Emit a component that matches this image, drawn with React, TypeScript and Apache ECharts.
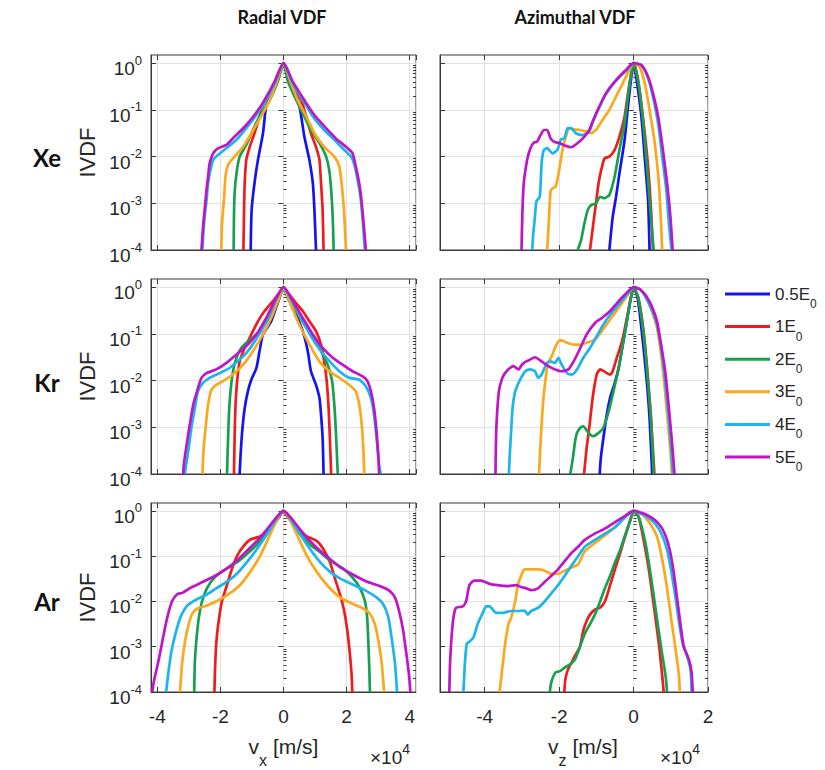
import React, { useEffect, useRef } from "react";
import * as echarts from "echarts";

// ---- Legend / series identity ----
const energyPrefixes = ["0.5", "1", "2", "3", "4", "5"];
const energyNames = ["0.5E0", "1E0", "2E0", "3E0", "4E0", "5E0"];
const lineColors = ["#1414ee", "#f01c1c", "#17a04f", "#fba81c", "#1cb4ec", "#c014c8"];

const columnTitles = ["Radial VDF", "Azimuthal VDF"];
const rowLabels = ["Xe", "Kr", "Ar"];
const xAxisNames = ["x", "z"];
const majorTickValues = [0.0001, 0.001, 0.01, 0.1, 1];

// ---- Data: each point is [velocity (×10^4 m/s), log10(IVDF)] ----
// Xe, radial
const xeRadial05 = [[-1.04,-4],[-1.01,-3.14],[-0.92,-2.57],[-0.81,-2.07],[-0.65,-1.5],[-0.55,-0.93],[-0.28,-0.43],[0,0],[0.29,-0.43],[0.51,-0.93],[0.66,-1.57],[0.82,-2.07],[0.93,-2.57],[0.98,-3.14],[1.03,-4]];
const xeRadial1 = [[-1.27,-4],[-1.25,-3.14],[-1.23,-2.57],[-1.18,-2.07],[-1.07,-1.79],[-0.92,-1.5],[-0.76,-1.14],[-0.6,-0.79],[-0.39,-0.57],[-0.18,-0.36],[0,0],[0.19,-0.36],[0.4,-0.57],[0.56,-0.79],[0.72,-1.14],[0.87,-1.5],[1.03,-1.79],[1.14,-2.07],[1.19,-2.57],[1.24,-3.14],[1.27,-4]];
const xeRadial2 = [[-1.58,-4],[-1.57,-3.29],[-1.55,-2.79],[-1.49,-2.36],[-1.39,-2.0],[-1.18,-1.75],[-0.97,-1.43],[-0.76,-1.14],[-0.44,-0.79],[-0.18,-0.39],[0,0],[0.14,-0.39],[0.35,-0.71],[0.61,-1.07],[0.87,-1.43],[1.14,-1.71],[1.35,-2.0],[1.45,-2.29],[1.51,-2.71],[1.56,-3.29],[1.59,-4]];
const xeRadial3 = [[-1.97,-4],[-1.95,-3.43],[-1.88,-2.86],[-1.84,-2.43],[-1.76,-2.18],[-1.55,-2.0],[-1.28,-1.79],[-1.02,-1.5],[-0.71,-1.14],[-0.44,-0.79],[-0.23,-0.43],[0,0],[0.24,-0.43],[0.45,-0.79],[0.72,-1.14],[0.98,-1.5],[1.29,-1.79],[1.61,-2.0],[1.77,-2.21],[1.84,-2.57],[1.91,-3.07],[1.95,-3.57],[1.98,-4]];
const xeRadial4 = [[-2.57,-4],[-2.52,-3.43],[-2.44,-2.93],[-2.39,-2.57],[-2.34,-2.36],[-2.23,-2.07],[-2.07,-1.96],[-1.81,-1.82],[-1.49,-1.64],[-1.18,-1.39],[-0.86,-1.11],[-0.55,-0.79],[-0.28,-0.43],[0,0],[0.29,-0.43],[0.61,-0.79],[0.93,-1.14],[1.29,-1.43],[1.61,-1.64],[1.93,-1.86],[2.14,-2.0],[2.25,-2.18],[2.35,-2.5],[2.44,-2.86],[2.51,-3.36],[2.58,-4]];
const xeRadial5 = [[-2.6,-4],[-2.55,-3.5],[-2.49,-3.07],[-2.44,-2.71],[-2.39,-2.43],[-2.34,-2.14],[-2.23,-1.93],[-2.07,-1.82],[-1.81,-1.75],[-1.55,-1.57],[-1.23,-1.36],[-0.92,-1.11],[-0.6,-0.79],[-0.28,-0.39],[0,0],[0.29,-0.39],[0.66,-0.79],[0.98,-1.11],[1.35,-1.39],[1.66,-1.61],[1.98,-1.79],[2.19,-1.93],[2.29,-2.21],[2.4,-2.57],[2.47,-2.93],[2.54,-3.43],[2.61,-4]];

// Xe, azimuthal
const xeAzim05 = [[-0.65,-4],[-0.56,-3.29],[-0.47,-2.86],[-0.38,-2.36],[-0.24,-1.64],[-0.15,-0.93],[-0.06,-0.29],[0,0],[0.07,-0.29],[0.21,-1.14],[0.32,-2.21],[0.39,-2.93],[0.43,-4]];
const xeAzim1 = [[-1.17,-4],[-1.08,-3.43],[-1.01,-3.0],[-0.94,-2.57],[-0.87,-2.29],[-0.78,-2.04],[-0.65,-2.0],[-0.51,-1.86],[-0.38,-1.57],[-0.24,-1.14],[-0.15,-0.64],[-0.06,-0.21],[0,0],[0.12,-0.36],[0.25,-1.14],[0.39,-2.21],[0.48,-3.29],[0.52,-4]];
const xeAzim2 = [[-1.5,-4],[-1.41,-3.79],[-1.32,-3.43],[-1.23,-3.14],[-1.14,-3.04],[-1.01,-3.0],[-0.9,-2.86],[-0.78,-2.89],[-0.65,-2.82],[-0.51,-2.43],[-0.38,-1.86],[-0.24,-1.29],[-0.15,-0.71],[-0.06,-0.21],[0,0],[0.12,-0.36],[0.25,-1.21],[0.36,-2.21],[0.45,-3.14],[0.54,-4]];
const xeAzim3 = [[-2.32,-4],[-2.27,-3.29],[-2.23,-2.75],[-2.18,-2.68],[-2.09,-2.64],[-2.0,-2.29],[-1.91,-1.86],[-1.82,-1.57],[-1.73,-1.39],[-1.64,-1.41],[-1.46,-1.43],[-1.28,-1.46],[-1.14,-1.5],[-1.01,-1.43],[-0.83,-1.21],[-0.65,-1.0],[-0.47,-0.71],[-0.29,-0.43],[-0.11,-0.14],[0,0],[0.16,-0.07],[0.3,-0.43],[0.43,-1.0],[0.57,-1.71],[0.68,-2.57],[0.73,-3.29],[0.77,-4]];
const xeAzim4 = [[-2.72,-4],[-2.7,-3.71],[-2.65,-3.29],[-2.61,-2.96],[-2.52,-2.86],[-2.47,-2.14],[-2.41,-1.86],[-2.32,-1.82],[-2.18,-1.93],[-2.05,-1.86],[-1.95,-1.63],[-1.86,-1.61],[-1.77,-1.39],[-1.68,-1.39],[-1.55,-1.5],[-1.37,-1.54],[-1.19,-1.46],[-1.1,-1.27],[-0.92,-0.94],[-0.74,-0.66],[-0.47,-0.37],[-0.2,-0.16],[0,0],[0.21,-0.04],[0.39,-0.32],[0.52,-0.71],[0.66,-1.29],[0.77,-2.0],[0.88,-2.71],[0.95,-3.43],[1.02,-4]];
const xeAzim5 = [[-3.01,-4],[-2.99,-3.29],[-2.95,-2.57],[-2.86,-2.07],[-2.77,-1.82],[-2.68,-1.7],[-2.59,-1.68],[-2.5,-1.54],[-2.41,-1.43],[-2.32,-1.43],[-2.23,-1.61],[-2.14,-1.68],[-2.0,-1.71],[-1.82,-1.77],[-1.68,-1.8],[-1.5,-1.71],[-1.32,-1.57],[-1.19,-1.43],[-1.1,-1.25],[-0.92,-0.93],[-0.74,-0.64],[-0.47,-0.36],[-0.2,-0.14],[0,0],[0.21,-0.04],[0.39,-0.29],[0.52,-0.64],[0.66,-1.14],[0.79,-1.86],[0.9,-2.57],[0.99,-3.29],[1.05,-4]];

// Kr, radial
const krRadial05 = [[-1.39,-4],[-1.36,-3.59],[-1.31,-3.09],[-1.23,-2.59],[-1.13,-2.23],[-1.02,-1.98],[-0.86,-1.73],[-0.76,-1.37],[-0.65,-1.01],[-0.39,-0.73],[-0.13,-0.23],[0,0],[0.14,-0.23],[0.4,-0.59],[0.61,-0.94],[0.77,-1.37],[0.87,-1.8],[1.03,-2.09],[1.14,-2.37],[1.19,-2.73],[1.24,-3.23],[1.27,-4]];
const krRadial1 = [[-1.57,-4],[-1.55,-3.23],[-1.52,-2.51],[-1.47,-2.01],[-1.39,-1.59],[-1.23,-1.3],[-1.02,-1.01],[-0.81,-0.73],[-0.6,-0.51],[-0.34,-0.3],[-0.13,-0.12],[0,0],[0.14,-0.12],[0.35,-0.3],[0.61,-0.51],[0.82,-0.73],[1.03,-0.94],[1.19,-1.23],[1.29,-1.59],[1.37,-2.01],[1.43,-2.59],[1.47,-3.23],[1.51,-4]];
const krRadial2 = [[-1.79,-4],[-1.76,-3.3],[-1.73,-2.73],[-1.68,-2.23],[-1.6,-1.8],[-1.49,-1.51],[-1.34,-1.3],[-1.13,-1.16],[-0.86,-1.01],[-0.6,-0.8],[-0.34,-0.51],[-0.13,-0.23],[0,0],[0.14,-0.23],[0.4,-0.51],[0.66,-0.8],[0.93,-1.05],[1.19,-1.37],[1.4,-1.66],[1.54,-2.01],[1.61,-2.51],[1.66,-3.09],[1.72,-4]];
const krRadial3 = [[-2.57,-4],[-2.53,-3.44],[-2.46,-2.94],[-2.39,-2.51],[-2.28,-2.19],[-2.13,-2.09],[-1.92,-2.01],[-1.6,-1.87],[-1.28,-1.66],[-0.97,-1.37],[-0.65,-1.01],[-0.39,-0.66],[-0.18,-0.3],[0,0],[0.19,-0.3],[0.45,-0.73],[0.77,-1.16],[1.14,-1.59],[1.45,-1.8],[1.77,-1.94],[2.08,-2.09],[2.29,-2.23],[2.4,-2.51],[2.48,-2.94],[2.53,-3.44],[2.56,-4]];
const krRadial4 = [[-3.13,-4],[-3.02,-3.51],[-2.92,-3.01],[-2.81,-2.59],[-2.71,-2.23],[-2.55,-2.05],[-2.34,-1.94],[-2.02,-1.84],[-1.71,-1.73],[-1.39,-1.55],[-1.13,-1.37],[-0.81,-1.05],[-0.49,-0.66],[-0.23,-0.26],[0,0],[0.24,-0.26],[0.56,-0.66],[0.87,-1.05],[1.19,-1.37],[1.51,-1.62],[1.77,-1.8],[2.08,-1.94],[2.4,-1.98],[2.61,-2.12],[2.77,-2.37],[2.87,-2.73],[2.95,-3.23],[3.03,-3.8],[3.08,-4]];
const krRadial5 = [[-3.18,-4],[-3.16,-3.8],[-3.07,-3.37],[-2.97,-2.94],[-2.86,-2.51],[-2.71,-2.16],[-2.6,-1.94],[-2.44,-1.84],[-2.13,-1.76],[-1.81,-1.62],[-1.49,-1.44],[-1.18,-1.26],[-0.86,-1.01],[-0.55,-0.66],[-0.23,-0.23],[0,0],[0.24,-0.23],[0.61,-0.66],[0.93,-1.01],[1.24,-1.3],[1.56,-1.51],[1.87,-1.66],[2.19,-1.8],[2.51,-1.91],[2.66,-2.01],[2.77,-2.23],[2.87,-2.59],[2.95,-3.09],[3.01,-3.66],[3.03,-4]];

// Kr, azimuthal
const krAzim05 = [[-0.91,-4],[-0.88,-3.66],[-0.81,-3.23],[-0.72,-2.73],[-0.63,-2.37],[-0.52,-2.09],[-0.4,-1.73],[-0.29,-1.23],[-0.18,-0.73],[-0.09,-0.3],[0,0],[0.11,-0.23],[0.22,-0.94],[0.34,-1.87],[0.43,-2.8],[0.5,-4]];
const krAzim1 = [[-1.33,-4],[-1.26,-3.44],[-1.18,-2.94],[-1.12,-2.51],[-1.06,-2.16],[-0.99,-1.87],[-0.9,-1.76],[-0.81,-1.79],[-0.72,-1.84],[-0.63,-1.87],[-0.56,-1.8],[-0.45,-1.51],[-0.31,-1.16],[-0.18,-0.66],[-0.09,-0.3],[0,0],[0.13,-0.23],[0.27,-0.94],[0.38,-1.87],[0.47,-2.8],[0.56,-4]];
const krAzim2 = [[-1.7,-4],[-1.63,-3.66],[-1.57,-3.3],[-1.52,-3.12],[-1.43,-3.01],[-1.35,-2.98],[-1.21,-3.12],[-1.08,-3.19],[-0.94,-3.12],[-0.81,-3.01],[-0.67,-2.66],[-0.54,-2.23],[-0.4,-1.73],[-0.29,-1.23],[-0.18,-0.73],[-0.09,-0.3],[0,0],[0.13,-0.23],[0.27,-1.01],[0.38,-1.94],[0.47,-2.87],[0.54,-4]];
const krAzim3 = [[-2.54,-4],[-2.51,-3.51],[-2.47,-2.94],[-2.42,-2.37],[-2.35,-1.87],[-2.29,-1.62],[-2.2,-1.48],[-2.11,-1.3],[-2.02,-1.16],[-1.93,-1.14],[-1.79,-1.19],[-1.61,-1.23],[-1.43,-1.23],[-1.26,-1.19],[-1.03,-1.12],[-0.85,-0.94],[-0.63,-0.69],[-0.4,-0.44],[-0.18,-0.19],[0,0],[0.18,-0.05],[0.34,-0.23],[0.49,-0.51],[0.63,-0.87],[0.74,-1.44],[0.83,-2.09],[0.91,-2.8],[0.99,-3.51],[1.03,-4]];
const krAzim4 = [[-3.35,-4],[-3.32,-3.51],[-3.29,-3.09],[-3.25,-2.59],[-3.18,-2.23],[-3.09,-2.05],[-3.0,-1.91],[-2.91,-1.8],[-2.78,-1.76],[-2.65,-1.8],[-2.56,-1.94],[-2.47,-1.87],[-2.33,-1.62],[-2.24,-1.59],[-2.11,-1.62],[-2.02,-1.51],[-1.93,-1.66],[-1.79,-1.84],[-1.66,-1.87],[-1.52,-1.76],[-1.35,-1.51],[-1.17,-1.3],[-0.99,-1.05],[-0.81,-0.8],[-0.63,-0.59],[-0.4,-0.37],[-0.18,-0.16],[0,0],[0.18,-0.05],[0.34,-0.23],[0.49,-0.48],[0.63,-0.8],[0.74,-1.3],[0.83,-1.87],[0.91,-2.51],[0.99,-3.23],[1.06,-4]];
const krAzim5 = [[-3.71,-4],[-3.69,-3.09],[-3.65,-2.51],[-3.61,-2.19],[-3.54,-1.98],[-3.48,-1.87],[-3.41,-1.8],[-3.32,-1.73],[-3.23,-1.69],[-3.09,-1.76],[-3.0,-1.66],[-2.91,-1.6],[-2.78,-1.55],[-2.65,-1.5],[-2.47,-1.59],[-2.29,-1.69],[-2.11,-1.76],[-1.93,-1.8],[-1.75,-1.76],[-1.61,-1.59],[-1.43,-1.3],[-1.26,-1.01],[-1.03,-0.76],[-0.85,-0.66],[-0.63,-0.51],[-0.4,-0.3],[-0.18,-0.12],[0,0],[0.18,-0.05],[0.34,-0.19],[0.49,-0.41],[0.63,-0.73],[0.74,-1.23],[0.85,-1.8],[0.94,-2.51],[1.03,-3.3],[1.1,-4]];

// Ar, radial (no 0.5E0 curve visible)
const arRadial1 = [[-2.19,-4],[-2.17,-3.49],[-2.13,-2.91],[-2.05,-2.41],[-1.95,-1.99],[-1.79,-1.63],[-1.63,-1.27],[-1.47,-0.99],[-1.26,-0.77],[-1.05,-0.63],[-0.74,-0.56],[-0.42,-0.38],[-0.16,-0.16],[0,0],[0.16,-0.16],[0.42,-0.38],[0.74,-0.56],[1.05,-0.66],[1.26,-0.84],[1.47,-1.13],[1.63,-1.49],[1.79,-1.84],[1.92,-2.2],[2.02,-2.63],[2.11,-3.2],[2.16,-3.63],[2.18,-4]];
const arRadial2 = [[-2.83,-4],[-2.81,-3.34],[-2.76,-2.84],[-2.68,-2.34],[-2.58,-1.99],[-2.42,-1.7],[-2.21,-1.49],[-1.89,-1.31],[-1.47,-1.13],[-1.16,-0.95],[-0.84,-0.74],[-0.53,-0.49],[-0.21,-0.16],[0,0],[0.21,-0.16],[0.53,-0.49],[0.84,-0.74],[1.16,-0.91],[1.47,-1.09],[1.89,-1.27],[2.21,-1.49],[2.42,-1.7],[2.58,-1.99],[2.65,-2.34],[2.69,-2.91],[2.72,-3.49],[2.74,-4]];
const arRadial3 = [[-3.28,-4],[-3.21,-3.34],[-3.11,-2.84],[-3.0,-2.49],[-2.89,-2.27],[-2.74,-2.16],[-2.42,-2.09],[-2.0,-1.95],[-1.68,-1.81],[-1.37,-1.63],[-1.05,-1.34],[-0.74,-0.99],[-0.47,-0.59],[-0.21,-0.2],[0,0],[0.21,-0.2],[0.47,-0.59],[0.74,-0.99],[1.05,-1.34],[1.37,-1.63],[1.79,-1.91],[2.21,-2.06],[2.53,-2.16],[2.74,-2.27],[2.89,-2.49],[3.0,-2.84],[3.11,-3.34],[3.19,-4]];
const arRadial4 = [[-3.72,-4],[-3.66,-3.63],[-3.56,-3.13],[-3.42,-2.7],[-3.26,-2.34],[-3.05,-2.09],[-2.74,-1.95],[-2.42,-1.84],[-2.11,-1.7],[-1.79,-1.56],[-1.47,-1.38],[-1.16,-1.13],[-0.84,-0.84],[-0.53,-0.52],[-0.21,-0.16],[0,0],[0.21,-0.16],[0.53,-0.52],[0.84,-0.84],[1.16,-1.13],[1.47,-1.34],[1.79,-1.49],[2.21,-1.63],[2.63,-1.77],[2.95,-1.91],[3.16,-2.06],[3.32,-2.34],[3.42,-2.77],[3.53,-3.34],[3.6,-4]];
const arRadial5 = [[-4.16,-4],[-4.11,-3.77],[-3.95,-3.27],[-3.81,-2.77],[-3.68,-2.34],[-3.53,-1.99],[-3.37,-1.84],[-3.21,-1.81],[-2.95,-1.7],[-2.53,-1.56],[-2.11,-1.41],[-1.79,-1.27],[-1.47,-1.09],[-1.16,-0.88],[-0.84,-0.66],[-0.53,-0.41],[-0.21,-0.13],[0,0],[0.21,-0.13],[0.53,-0.41],[0.84,-0.66],[1.16,-0.88],[1.47,-1.06],[1.79,-1.24],[2.21,-1.41],[2.63,-1.56],[3.05,-1.66],[3.37,-1.77],[3.53,-1.91],[3.66,-2.2],[3.79,-2.63],[3.89,-3.13],[3.98,-3.63],[4.02,-4]];

// Ar, azimuthal (no 0.5E0 curve visible)
const arAzim1 = [[-1.86,-4],[-1.83,-3.71],[-1.76,-3.5],[-1.67,-3.36],[-1.58,-3.21],[-1.44,-3.0],[-1.35,-2.64],[-1.26,-2.43],[-1.17,-2.29],[-1.04,-2.18],[-0.9,-2.14],[-0.77,-2.0],[-0.63,-1.64],[-0.5,-1.29],[-0.36,-0.93],[-0.23,-0.57],[-0.09,-0.21],[0,0],[0.14,-0.14],[0.27,-0.64],[0.41,-1.29],[0.54,-2.07],[0.68,-2.93],[0.77,-3.64],[0.81,-4]];
const arAzim2 = [[-2.25,-4],[-2.21,-3.79],[-2.1,-3.57],[-1.98,-3.54],[-1.85,-3.46],[-1.71,-3.39],[-1.58,-3.29],[-1.44,-3.0],[-1.31,-2.71],[-1.17,-2.5],[-1.04,-2.29],[-0.9,-2.0],[-0.77,-1.71],[-0.63,-1.43],[-0.5,-1.14],[-0.36,-0.86],[-0.23,-0.54],[-0.09,-0.21],[0,0],[0.14,-0.14],[0.32,-0.71],[0.45,-1.36],[0.6,-2.21],[0.75,-3.07],[0.86,-3.64],[0.9,-4]];
const arAzim3 = [[-3.6,-4],[-3.51,-3.36],[-3.45,-2.93],[-3.36,-2.5],[-3.29,-2.36],[-3.18,-2.0],[-3.11,-1.64],[-3.02,-1.43],[-2.93,-1.29],[-2.75,-1.29],[-2.57,-1.29],[-2.39,-1.32],[-2.21,-1.39],[-2.03,-1.39],[-1.85,-1.32],[-1.67,-1.25],[-1.49,-1.18],[-1.31,-0.89],[-1.04,-0.71],[-0.77,-0.54],[-0.5,-0.36],[-0.23,-0.14],[0,0],[0.23,-0.07],[0.45,-0.29],[0.63,-0.57],[0.77,-1.07],[0.9,-1.71],[1.02,-2.43],[1.13,-3.07],[1.22,-3.64],[1.24,-4]];
const arAzim4 = [[-4.57,-4],[-4.53,-3.36],[-4.48,-2.93],[-4.41,-2.89],[-4.3,-2.79],[-4.19,-2.5],[-4.05,-2.25],[-3.96,-2.11],[-3.87,-2.11],[-3.69,-2.25],[-3.51,-2.25],[-3.29,-2.21],[-3.11,-2.21],[-2.93,-2.2],[-2.84,-2.29],[-2.75,-2.21],[-2.57,-2.14],[-2.39,-2.0],[-2.21,-1.82],[-2.03,-1.64],[-1.85,-1.43],[-1.67,-1.21],[-1.49,-1.0],[-1.31,-0.79],[-1.04,-0.64],[-0.77,-0.5],[-0.5,-0.36],[-0.23,-0.14],[0,0],[0.32,-0.11],[0.59,-0.29],[0.77,-0.54],[0.9,-0.86],[1.02,-1.36],[1.13,-1.93],[1.23,-2.5],[1.32,-2.93],[1.44,-3.21],[1.53,-3.5],[1.56,-4]];
const arAzim5 = [[-4.95,-4],[-4.93,-3.36],[-4.89,-2.79],[-4.84,-2.36],[-4.77,-2.14],[-4.59,-2.11],[-4.5,-2.0],[-4.41,-1.64],[-4.28,-1.54],[-4.1,-1.54],[-3.87,-1.61],[-3.65,-1.64],[-3.38,-1.66],[-3.15,-1.64],[-3.02,-1.68],[-2.88,-1.71],[-2.75,-1.75],[-2.57,-1.71],[-2.39,-1.57],[-2.21,-1.43],[-2.03,-1.29],[-1.85,-1.11],[-1.67,-0.93],[-1.49,-0.79],[-1.31,-0.64],[-1.04,-0.5],[-0.77,-0.39],[-0.5,-0.25],[-0.23,-0.11],[0,0],[0.32,-0.07],[0.59,-0.21],[0.77,-0.39],[0.9,-0.64],[0.99,-0.93],[1.08,-1.36],[1.17,-1.93],[1.26,-2.5],[1.35,-3.0],[1.49,-3.29],[1.56,-3.57],[1.59,-4]];

// Panels in reading order (row-major: Xe radial, Xe azimuthal, Kr radial, ...)
const panelSets: (number[][] | null)[][] = [
  [xeRadial05, xeRadial1, xeRadial2, xeRadial3, xeRadial4, xeRadial5],
  [xeAzim05, xeAzim1, xeAzim2, xeAzim3, xeAzim4, xeAzim5],
  [krRadial05, krRadial1, krRadial2, krRadial3, krRadial4, krRadial5],
  [krAzim05, krAzim1, krAzim2, krAzim3, krAzim4, krAzim5],
  [null, arRadial1, arRadial2, arRadial3, arRadial4, arRadial5],
  [null, arAzim1, arAzim2, arAzim3, arAzim4, arAzim5],
];

// ---- Layout ----
const FONT = "'Liberation Sans', Arial, Helvetica, sans-serif";
const TITLE_FONT = "Lato, 'Open Sans', sans-serif";
const TEXT = "#262626";
const FRAME = "#3a3a3a";
const GRIDLINE = "#e2e2e2";
const colLeft = [151, 440];
const colWidth = [265, 268];
const rowTop = [55, 279, 503];
const panelHeight = 195;
const xRange = [[-4.2, 4.2], [-5.2, 2]];
const xSplit = [4, 3];

function minorTickValues() {
  const out: number[] = [];
  for (let e = -4; e <= -1; e++) {
    for (let m = 2; m <= 9; m++) out.push(m * Math.pow(10, e));
  }
  return out;
}

function buildOption() {
  const grids: any[] = [];
  const xAxes: any[] = [];
  const yAxes: any[] = [];
  const series: any[] = [];
  const minors = minorTickValues();

  const tickOnlyY = (p: number, position: string, values: number[], length: number) => ({
    gridIndex: p, type: "log", logBase: 10, min: 0.0001, max: 1.5, position,
    axisLine: { show: false },
    axisTick: { show: true, inside: true, length, customValues: values, lineStyle: { color: FRAME } },
    axisLabel: { show: false },
    splitLine: { show: false },
  });

  for (let p = 0; p < 6; p++) {
    const r = Math.floor(p / 2);
    const c = p % 2;
    grids.push({
      left: colLeft[c], top: rowTop[r], width: colWidth[c], height: panelHeight,
      show: true, borderColor: FRAME, borderWidth: 1, backgroundColor: "#ffffff",
    });
    xAxes.push({
      gridIndex: p, type: "value", min: xRange[c][0], max: xRange[c][1], splitNumber: xSplit[c],
      position: "bottom",
      axisLine: { show: true, onZero: false, lineStyle: { color: FRAME, width: 1 } },
      axisTick: { show: true, inside: true, length: 5, lineStyle: { color: FRAME } },
      splitLine: { show: true, lineStyle: { color: GRIDLINE, width: 1 } },
      axisLabel: {
        show: r === 2, showMinLabel: false, showMaxLabel: c === 1,
        fontSize: 19, lineHeight: 19, color: TEXT, fontFamily: FONT, margin: 15,
      },
      name: r === 2 ? `{v|v}{sub|${xAxisNames[c]}}{v| [m/s]}` : "",
      nameLocation: "middle",
      nameGap: 50,
      nameTextStyle: {
        color: TEXT, fontFamily: FONT,
        padding: c === 1 ? [0, 0, 0, 18] : 0,
        rich: {
          v: { fontSize: 21, lineHeight: 21, padding: [0, 0, 12, 0], color: TEXT, fontFamily: FONT },
          sub: { fontSize: 16, lineHeight: 16, padding: [16.5, 0, 0.5, 0], color: TEXT, fontFamily: FONT },
        },
      },
    });
    yAxes.push({
      gridIndex: p, type: "log", logBase: 10, min: 0.0001, max: 1.5, position: "left",
      axisLine: { show: true, onZero: false, lineStyle: { color: FRAME, width: 1 } },
      axisTick: { show: true, inside: true, length: 5, customValues: majorTickValues, lineStyle: { color: FRAME } },
      splitLine: { show: true, lineStyle: { color: GRIDLINE, width: 1 } },
      axisLabel: {
        show: c === 0, showMaxLabel: false, margin: 9,
        formatter: (v: number) => `{b|10}{s|${Math.round(Math.log10(v))}}`,
        rich: {
          b: { fontSize: 19, lineHeight: 19, padding: [11, 0, 0, 0], color: TEXT, fontFamily: FONT },
          s: { fontSize: 13, lineHeight: 13, padding: [5.5, 0, 11.5, 0], color: TEXT, fontFamily: FONT },
        },
      },
      name: c === 0 ? "IVDF" : "",
      nameLocation: "middle",
      nameRotate: 90,
      nameGap: 53,
      nameTextStyle: { fontSize: 22, color: TEXT, fontFamily: FONT },
    });

    panelSets[p].forEach((set, k) => {
      if (!set) return;
      series.push({
        type: "line",
        name: energyNames[k],
        xAxisIndex: p,
        yAxisIndex: p,
        data: set.map(([v, lg]) => [v, Math.pow(10, lg)]),
        showSymbol: false,
        symbol: "none",
        smooth: 0.2,
        clip: true,
        lineStyle: { color: lineColors[k], width: 2.7 },
        itemStyle: { color: lineColors[k] },
        emphasis: { disabled: true },
      });
    });
  }

  // tick-only companion axes (MATLAB-style box ticks)
  for (let p = 0; p < 6; p++) yAxes.push(tickOnlyY(p, "left", minors, 3));
  for (let p = 0; p < 6; p++) yAxes.push(tickOnlyY(p, "right", majorTickValues, 5));
  for (let p = 0; p < 6; p++) yAxes.push(tickOnlyY(p, "right", minors, 3));
  for (let p = 0; p < 6; p++) {
    const c = p % 2;
    xAxes.push({
      gridIndex: p, type: "value", min: xRange[c][0], max: xRange[c][1], splitNumber: xSplit[c],
      position: "top",
      axisLine: { show: false },
      axisTick: { show: true, inside: true, length: 5, lineStyle: { color: FRAME } },
      axisLabel: { show: false },
      splitLine: { show: false },
    });
  }

  const graphic: any[] = [];
  columnTitles.forEach((t, i) => {
    graphic.push({
      type: "text", x: [282, 575][i], y: 17,
      style: { text: t, fontFamily: TITLE_FONT, fontWeight: "bold", fontSize: 18, fill: "#111", align: "center", verticalAlign: "middle" },
    });
  });
  rowLabels.forEach((t, i) => {
    graphic.push({
      type: "text", x: 47, y: [157, 382, 601][i],
      style: { text: t, fontFamily: TITLE_FONT, fontWeight: "bold", fontSize: 24, fill: "#111", align: "center", verticalAlign: "middle" },
    });
  });
  [370, 660].forEach((x) => {
    graphic.push({
      type: "text", x, y: 753,
      style: {
        text: "{m|×10}{s|4}", align: "left", verticalAlign: "middle",
        rich: {
          m: { fontSize: 19, lineHeight: 19, padding: [8, 0, 0, 0], fill: TEXT, fontFamily: FONT },
          s: { fontSize: 14, lineHeight: 14, padding: [2.5, 0, 10.5, 0], fill: TEXT, fontFamily: FONT },
        },
      },
    });
  });

  return {
    animation: false,
    backgroundColor: "#ffffff",
    grid: grids,
    xAxis: xAxes,
    yAxis: yAxes,
    series,
    graphic,
    legend: {
      data: energyNames,
      orient: "vertical",
      left: 725,
      top: 278,
      padding: 0,
      itemWidth: 45,
      itemHeight: 3,
      itemGap: 0.6,
      icon: "rect",
      selectedMode: false,
      formatter: (name: string) => `{m|${energyPrefixes[energyNames.indexOf(name)]}E}{s|0}`,
      textStyle: {
        color: TEXT, fontFamily: FONT,
        rich: {
          m: { fontSize: 17, lineHeight: 17, padding: [7.5, 0, 7.5, 0], color: TEXT, fontFamily: FONT },
          s: { fontSize: 12, lineHeight: 12, padding: [20, 0, 0, 0], color: TEXT, fontFamily: FONT },
        },
      },
    },
  };
}

export default function App() {
  const ref = useRef<HTMLDivElement>(null);
  useEffect(() => {
    if (!ref.current) return;
    const chart = echarts.init(ref.current, undefined, { renderer: "svg" });
    chart.setOption(buildOption() as any);
    return () => chart.dispose();
  }, []);
  return (
    <div
      ref={ref}
      style={{ position: "fixed", left: 0, top: 0, width: 825, height: 770, background: "#fff" }}
    />
  );
}
